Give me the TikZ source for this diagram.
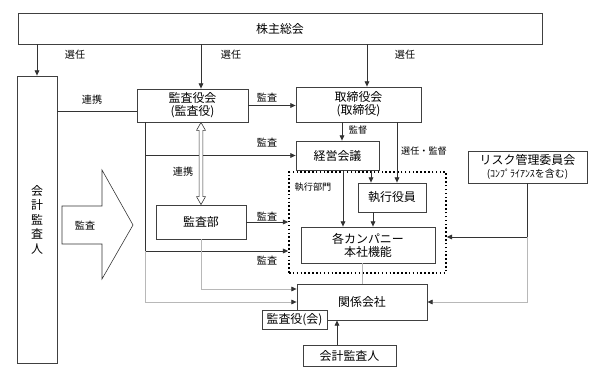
\documentclass[tikz,border=0pt]{standalone}
\usepackage{fontspec}
\setmainfont{Noto Sans CJK JP}
\usetikzlibrary{arrows.meta,calc}

\begin{document}
\begin{tikzpicture}[x=0.03cm,y=-0.03cm,
  sz/.style 2 args={minimum width=#1*0.03cm, minimum height=#2*0.03cm},
  box/.style={draw=black!75, line width=0.7pt, fill=white, align=center, inner sep=0pt, font=\fontsize{10.2pt}{11.2pt}\selectfont},
  lbl/.style={inner sep=0pt, font=\fontsize{8.6pt}{10pt}\selectfont},
  small/.style={inner sep=0pt, font=\fontsize{7.8pt}{9pt}\selectfont},
  link/.style={draw=black!80, line width=0.7pt},
  faint/.style={draw=black!28, line width=0.6pt},
  >={Triangle[length=4.5pt,width=4pt]},
  fainttip/.style={-{Triangle[length=4.5pt,width=4pt,black!80]}}]
\useasboundingbox (0,0) rectangle (614,371);

\node[box, sz={524}{31}] (soukai) at (280,28.5) {株主総会};
\node[box, sz={40}{287}, font=\fontsize{10.2pt}{12.4pt}\selectfont] (kaikei) at (37,219.5) {会\\計\\監\\査\\人};
\node[box, sz={111}{33}] (kansayaku) at (192.5,105.5) {監査役会\\(監査役)};
\node[box, sz={125}{35}] (torishimari) at (358.5,104.5) {取締役会\\(取締役)};
\node[box, sz={83}{29}] (keiei) at (337.5,155.5) {経営会議};
\node[draw, dotted, line width=1.3pt, sz={157}{101}] (shikko) at (367.5,222.5) {};
\node[box, sz={68}{29}] (yakuin) at (392,197.5) {執行役員};
\node[box, sz={134}{36}] (company) at (368,245) {各カンパニー\\本社機能};
\node[box, sz={119}{32}] (risk) at (527.5,167) {リスク管理委員会\\{\fontsize{8.5pt}{10pt}\selectfont (ｺﾝﾌﾟﾗｲｱﾝｽを含む)}};
\node[box, sz={90}{34}] (kansabu) at (201,222) {監査部};
\node[box, sz={130}{36}] (kankei) at (362,302) {関係会社};
\node[box, sz={65}{19}] (kansayakukai) at (294.5,319.5) {監査役(会)};
\node[box, sz={93}{21}] (kaikei2) at (349.5,355.5) {会計監査人};

\draw[link, line width=0.5pt] (62,206) -- (102,206) -- (102,170) -- (133,225) -- (102,279) -- (102,244) -- (62,244) -- cycle;
\node[lbl] (kansaya) at (85,226) {監査};

\node[lbl] (sen1) at (75,55) {選任};
\node[lbl] (sen2) at (231,55) {選任};
\node[lbl] (sen3) at (405,55) {選任};
\node[lbl] (ren1) at (92,100) {連携};
\node[lbl] (ren2) at (183,172) {連携};
\node[lbl] (ka1) at (267,98) {監査};
\node[lbl] (ka2) at (267,143) {監査};
\node[lbl] (ka3) at (267,217) {監査};
\node[lbl] (ka4) at (267,261) {監査};
\node[small] (kantoku) at (358,130) {監督};
\node[small] (senkan) at (424,151) {選任・監督};
\node[small] (bumon) at (313,187) {執行部門};

\draw[link,->] (soukai.south -| kaikei.north) -- (kaikei.north);
\draw[link,->] (soukai.south -| kansabu.north) -- (kansayaku.north -| kansabu.north);
\coordinate (tn) at ($(torishimari.north)+(8.5,0)$);
\draw[link,->] (soukai.south -| tn) -- (tn);
\coordinate (rk) at ($(kansayaku.west)+(0,5.5)$);
\draw[link] (kaikei.east |- rk) -- (rk);
\draw[link,->] (kansayaku.east) -- (kansayaku.east -| torishimari.west);
\coordinate (tr) at ($(kansayaku.south west)+(9,0)$);
\coordinate (tb) at (tr |- 0,251);
\draw[link] (tr) -- (tb);
\draw[link,->] (tr |- keiei.west) -- (keiei.west);
\draw[link,->] (tb) -- (tb -| shikko.west);
\draw[link,->] (kansabu.east) -- (kansabu.east -| shikko.west);
\coordinate (da) at (kansabu.north |- kansayaku.south);
\draw[link, line width=0.5pt, fill=white] ($(da)+(-1.8,8)$) -- ($(da)+(-4.5,8)$) -- (da) -- ($(da)+(4.5,8)$) -- ($(da)+(1.8,8)$) -- ($(kansabu.north)+(1.8,-8)$) -- ($(kansabu.north)+(4.5,-8)$) -- (kansabu.north) -- ($(kansabu.north)+(-4.5,-8)$) -- ($(kansabu.north)+(-1.8,-8)$) -- cycle;
\coordinate (km) at ($(keiei.north)+(4.5,0)$);
\draw[link,->] (torishimari.south -| km) -- (km);
\coordinate (ys) at ($(yakuin.north)+(5,0)$);
\draw[link,->] (torishimari.south -| ys) -- (ys);
\coordinate (ky) at (371,0);
\draw[link,->] (keiei.south -| ky) -- (yakuin.north -| ky);
\coordinate (kc) at (343,0);
\draw[link,->] (keiei.south -| kc) -- (company.north -| kc);
\coordinate (yc) at (373,0);
\draw[link,->] (yakuin.south -| yc) -- (company.north -| yc);
\coordinate (rs) at ($(shikko.east)+(0,14.5)$);
\draw[link,->] (risk.south) |- (rs);
\draw[faint,fainttip] (risk.south |- rs) |- (kankei.east);
\draw[faint] (company.south -| kankei.north) -- (kankei.north);
\coordinate (kb) at ($(kankei.west)+(0,-13)$);
\draw[faint,fainttip] (kansabu.south) |- (kb);
\draw[faint,fainttip] (tb) |- (kankei.west);
\coordinate (ka) at (337,0);
\draw[link,->] (kaikei2.north -| ka) -- (kankei.south -| ka);
\end{tikzpicture}
\end{document}
